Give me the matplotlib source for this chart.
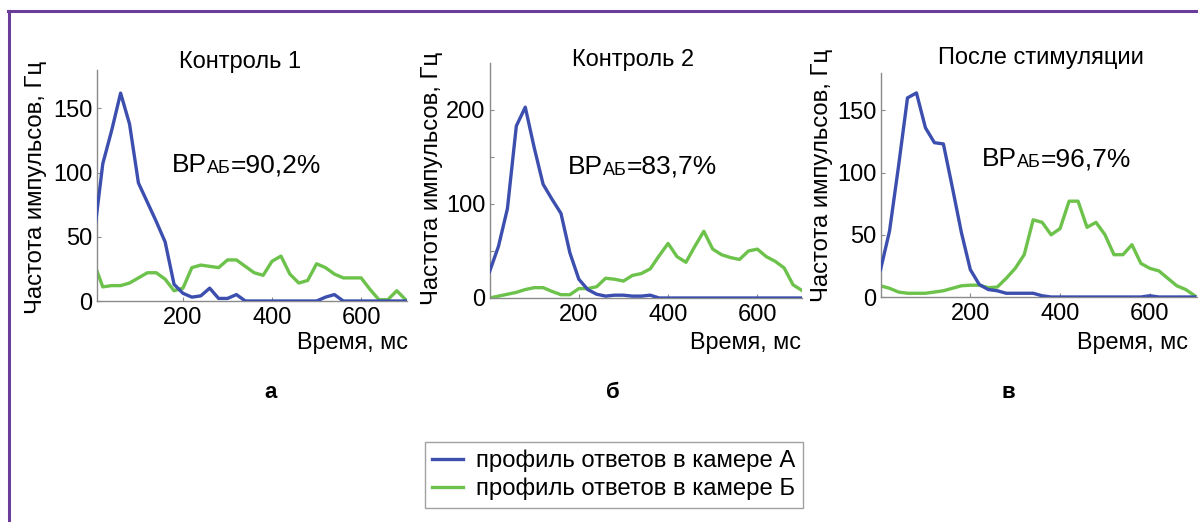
import matplotlib
matplotlib.use("Agg")
import matplotlib.pyplot as plt
from matplotlib.lines import Line2D
import numpy as np

plt.rcParams['font.family'] = ['Liberation Sans', 'DejaVu Sans']

W, H = 1198, 522

# ---- data ----
time_ms = list(range(0, 720, 20))  # 0..700

a_camA = [50, 107, 133, 162, 138, 92, 77, 62, 46, 13, 6, 3, 4, 10, 2, 2, 5, 0,
          0, 0, 0, 0, 0, 0, 0, 0, 3, 5, 0, 0, 0, 0, 0, 0, 0, 0]
a_camB = [30, 11, 12, 12, 14, 18, 22, 22, 17, 8, 10, 26, 28, 27, 26, 32, 32, 27,
          22, 20, 31, 35, 21, 14, 16, 29, 26, 21, 18, 18, 18, 9, 1, 1, 8, 1]

b_camA = [28, 55, 95, 183, 203, 160, 121, 105, 90, 48, 20, 9, 4, 2, 3, 3, 2, 2,
          3, 0, 0, 0, 0, 0, 0, 0, 0, 0, 0, 0, 0, 0, 0, 0, 0, 0]
b_camB = [0, 2, 4, 6, 9, 11, 11, 7, 3.5, 3.5, 10, 10, 12, 21, 20, 18, 24, 26,
          31, 45, 58, 44, 38, 55, 71, 52, 46, 43, 41, 50, 52, 44, 39, 32, 14, 8]

c_camA = [22, 53, 105, 160, 164, 136, 124, 123, 88, 52, 22, 10, 6, 5, 3, 3, 3, 3,
          1, 0, 0, 0, 0, 0, 0, 0, 0, 0, 0, 0, 1, 0, 0, 0, 0, 0]
c_camB = [9, 7, 4, 3, 3, 3, 4, 5, 7, 9, 9.5, 9.5, 7.5, 8, 15, 23, 34, 62,
          60, 50, 55, 77, 77, 56, 60, 50, 34, 34, 42, 27, 23, 21, 15, 9, 6, 1]

panel_titles = ["Контроль 1", "Контроль 2", "После стимуляции"]
panel_letters = ["а", "б", "в"]
br_values = ["=90,2%", "=83,7%", "=96,7%"]
legend_labels = ["профиль ответов в камере А", "профиль ответов в камере Б"]
ylabel_text = "Частота импульсов, Гц"
xlabel_text = "Время, мс"

x_ticks = [200, 400, 600]
y_ticks_a = [0, 50, 100, 150]
y_ticks_b = [0, 50, 100, 150, 200]
y_ticklabels_b = ["0", "", "100", "", "200"]

BLUE = "#3c4fae"
GREEN = "#6cc24a"
PURPLE = "#6a3d9a"
SPINE = "#8a8a8a"

fig = plt.figure(figsize=(W / 100, H / 100), dpi=100)


def px_rect(l, t, r, b):
    return [l / W, 1 - b / H, (r - l) / W, (b - t) / H]


panels = [
    dict(rect=px_rect(97, 70, 407, 301), xlim=(7, 703), ylim=(0, 180),
         A=a_camA, B=a_camB, yt=y_ticks_a, ytl=[str(v) for v in y_ticks_a],
         title_xy=(240, 62), br_xy=(172, 172), ylab_xy=(36, 187),
         xlab_xy=(408, 343), letter_xy=(271, 393)),
    dict(rect=px_rect(490, 63, 802, 298), xlim=(1, 700), ylim=(0, 250),
         A=b_camA, B=b_camB, yt=y_ticks_b, ytl=y_ticklabels_b,
         title_xy=(633, 60), br_xy=(568, 174), ylab_xy=(432, 178),
         xlab_xy=(801, 342), letter_xy=(613, 393)),
    dict(rect=px_rect(881, 73, 1197, 297), xlim=(1, 705), ylim=(0, 180),
         A=c_camA, B=c_camB, yt=y_ticks_a, ytl=[str(v) for v in y_ticks_a],
         title_xy=(1041, 58), br_xy=(982, 166), ylab_xy=(822, 175),
         xlab_xy=(1188, 342), letter_xy=(1008, 393)),
]

handles = None
for i, p in enumerate(panels):
    ax = fig.add_axes(p["rect"])
    lA, = ax.plot(time_ms, p["A"], color=BLUE, lw=2.4, solid_joinstyle='round', zorder=3)
    lB, = ax.plot(time_ms, p["B"], color=GREEN, lw=2.4, solid_joinstyle='round', zorder=2)
    if handles is None:
        handles = [lA, lB]
    ax.set_xlim(*p["xlim"])
    ax.set_ylim(*p["ylim"])
    ax.set_xticks(x_ticks)
    ax.set_xticklabels([str(v) for v in x_ticks])
    ax.set_yticks(p["yt"])
    ax.set_yticklabels(p["ytl"])
    for s in ["top", "right"]:
        ax.spines[s].set_visible(False)
    for s in ["left", "bottom"]:
        ax.spines[s].set_color(SPINE)
        ax.spines[s].set_linewidth(1.0)
    ax.tick_params(direction='in', length=3, width=0.8, color=SPINE,
                   labelsize=17, labelcolor='black')
    ax.tick_params(axis='x', pad=4.5)
    ax.tick_params(axis='y', pad=3.5)
    ax.patch.set_alpha(0)

    tx, ty = p["title_xy"]
    fig.text(tx / W, 1 - ty / H, panel_titles[i], ha='center', va='center', fontsize=17)

    lx, ly = p["ylab_xy"]
    fig.text(lx / W, 1 - ly / H, ylabel_text, ha='center', va='center',
             rotation=90, fontsize=17.2)

    xx, xy = p["xlab_xy"]
    fig.text(xx / W, 1 - xy / H, xlabel_text, ha='right', va='center', fontsize=16.8)

    gx, gy = p["letter_xy"]
    fig.text(gx / W, 1 - gy / H, panel_letters[i], ha='center', va='center',
             fontsize=16, fontweight='bold')

    bx, by = p["br_xy"]
    t1 = fig.text(bx / W, 1 - by / H, "ВР", ha='left', va='baseline', fontsize=19)
    sub = fig.add_artist(plt.Annotation("АБ", xy=(1, 0), xycoords=t1, ha='left',
                                        va='bottom', fontsize=13))
    fig.add_artist(plt.Annotation(br_values[i], xy=(1, 0), xycoords=sub, ha='left',
                                  va='bottom', fontsize=19))

leg = fig.legend(handles, legend_labels, loc='center',
                 bbox_to_anchor=(614 / W, 1 - 475 / H), fontsize=17.2,
                 frameon=True, fancybox=False, edgecolor='#8a8a8a',
                 handlelength=1.3, handletextpad=0.55, borderpad=0.3,
                 labelspacing=0.25, borderaxespad=0)
leg.get_frame().set_linewidth(1.0)

# purple frame lines (left and top)
fig.add_artist(Line2D([9 / W, 9 / W], [0, 1 - 11 / H], color=PURPLE, lw=2.2,
                      transform=fig.transFigure))
fig.add_artist(Line2D([8 / W, 1], [1 - 11 / H, 1 - 11 / H], color=PURPLE, lw=2.2,
                      transform=fig.transFigure))

fig.savefig("out.png", dpi=100)
